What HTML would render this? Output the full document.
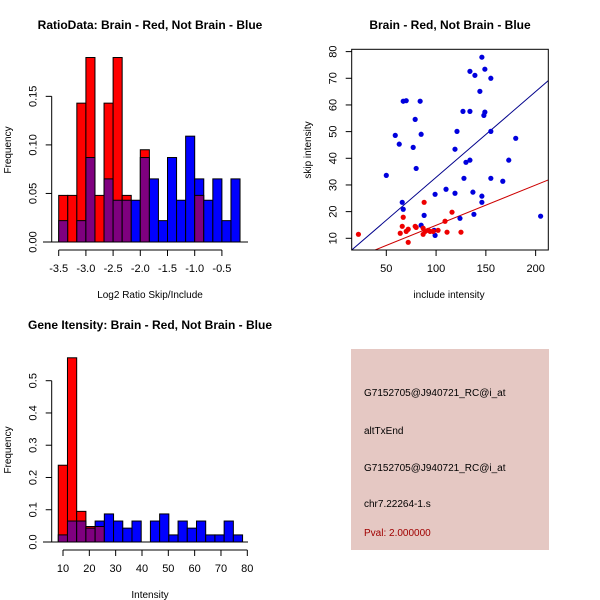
<!DOCTYPE html>
<html><head><meta charset="utf-8"><style>
body{margin:0;background:#fff}
svg{display:block;font-family:"Liberation Sans",sans-serif}
</style></head><body>
<svg id="c" width="600" height="600" viewBox="0 0 600 600">
<rect x="0" y="0" width="600" height="600" fill="#fff"/>
<g id="p1"></g>
<g id="p2"></g>
<g id="p3"></g>
<g id="p4">
<rect x="351" y="349" width="198" height="201" fill="#e5c8c3"/>
<text x="364" y="396" font-size="10">G7152705@J940721_RC@i_at</text>
<text x="364" y="434" font-size="10">altTxEnd</text>
<text x="364" y="471" font-size="10">G7152705@J940721_RC@i_at</text>
<text x="364" y="507" font-size="10">chr7.22264-1.s</text>
<text x="364" y="536" font-size="10" fill="#a00000">Pval: 2.000000</text>
</g>
</svg>
<script>
// Panel 1 data
const ratioBinStart = -3.5;
const ratioBinWidth = 1/6;
const ratioRed = [0.048,0.048,0.143,0.19,0.048,0.143,0.19,0.048,0,0.095,0,0,0,0,0,0.048,0,0,0,0];
const ratioBlue = [0.022,0,0.022,0.087,0,0.065,0.043,0.043,0.043,0.087,0.065,0.022,0.087,0.043,0.109,0.065,0.043,0.065,0.022,0.065];
const ratioXTicks = [-3.5,-3.0,-2.5,-2.0,-1.5,-1.0,-0.5];
const ratioXTickLabels = ["-3.5","-3.0","-2.5","-2.0","-1.5","-1.0","-0.5"];
const ratioYTicks = [0,0.05,0.10,0.15];
const ratioYTickLabels = ["0.00","0.05","0.10","0.15"];
// Panel 2 data
const blueX = [50,59,63,66,67,67,70,77,79,80,84,85,85,88,99,98,99,110,119,119,121,124,127,128,130,134,134,134,137,138,139,144,146,146,146,148,149,149,155,155,155,167,173,180,205];
const blueY = [33.6,48.6,45.3,23.5,20.9,61.4,61.6,44.1,54.6,36.2,61.4,49,14.9,18.6,26.5,13,11.1,28.4,43.4,26.9,50.1,17.5,57.6,32.5,38.5,39.3,72.6,57.6,27.3,19,71.1,65.1,77.9,25.8,23.5,56.1,57.3,73.4,70,50.1,32.5,31.4,39.3,47.5,18.3];
const redX = [22,64,66,67,70,72,72,79,80,88,87,87,89,92,94,97,102,109,111,116,125];
const redY = [11.5,11.9,14.5,17.9,12.6,13.4,8.5,14.5,14.1,23.5,13.8,11.5,12.6,13,12.6,12.6,13,16.4,12.3,19.8,12.3];
const blueFit = [0.71,0.3215];
const redFit = [-0.23,0.151];
const scXTicks = [50,100,150,200];
const scYTicks = [10,20,30,40,50,60,70,80];
// Panel 3 data
const geneBinStart = 8.2;
const geneBinWidth = 3.5;
const geneRed = [0.238,0.571,0.095,0.048,0.048,0,0,0,0,0,0,0,0,0,0,0,0,0,0,0];
const geneBlue = [0.022,0.065,0.065,0.043,0.065,0.087,0.065,0.043,0.065,0,0.065,0.087,0.022,0.065,0.043,0.065,0.022,0.022,0.065,0.022];
const geneXTicks = [10,20,30,40,50,60,70,80];
const geneYTicks = [0,0.1,0.2,0.3,0.4,0.5];
const geneYTickLabels = ["0.0","0.1","0.2","0.3","0.4","0.5"];

const NS="http://www.w3.org/2000/svg";
function mk(parent,tag,attrs,text){const e=document.createElementNS(NS,tag);for(const k in attrs)e.setAttribute(k,attrs[k]);if(text!==undefined)e.textContent=text;parent.appendChild(e);return e;}

function hist(g,cfg){
  const {x,y,start,w,red,blue,xt,xtl,yt,ytl,title,xlab,axY,yAxisX,baseL,baseR,titleY,xlabY,top}=cfg;
  const t=mk(g,'text',{x:150,y:titleY,'font-size':12,'font-weight':'bold','text-anchor':'middle'},title);
  
  for(let i=0;i<red.length;i++){
    const x0=x(start+i*w),x1=x(start+(i+1)*w);
    const hi=Math.max(red[i],blue[i]),lo=Math.min(red[i],blue[i]);
    if(hi<=0)continue;
    const col=red[i]>blue[i]?'#ff0000':'#0000ff';
    const r=mk(g,'rect',{x:x0,y:y(hi),width:x1-x0,height:y(0)-y(hi),fill:col,stroke:'#000','stroke-width':1});
    
    if(lo>0){const p=mk(g,'rect',{x:x0,y:y(lo),width:x1-x0,height:y(0)-y(lo),fill:'#7f007f',stroke:'#000','stroke-width':1});
      }
  }
  const b=mk(g,'line',{x1:baseL,x2:baseR,y1:y(0),y2:y(0),stroke:'#000'});
  
  const xa=mk(g,'g',{});
  mk(xa,'line',{x1:x(xt[0]),x2:x(xt[xt.length-1]),y1:axY,y2:axY,stroke:'#000'});
  xt.forEach((v,i)=>{mk(xa,'line',{x1:x(v),x2:x(v),y1:axY,y2:axY+6,stroke:'#000'});
    const l=mk(xa,'text',{x:x(v),y:axY+22,'font-size':11,'text-anchor':'middle'},xtl[i]);
    });
  const ya=mk(g,'g',{});
  mk(ya,'line',{x1:yAxisX,x2:yAxisX,y1:y(yt[0]),y2:y(yt[yt.length-1]),stroke:'#000'});
  yt.forEach((v,i)=>{mk(ya,'line',{x1:yAxisX-6,x2:yAxisX,y1:y(v),y2:y(v),stroke:'#000'});
    const l=mk(ya,'text',{x:0,y:0,'font-size':11,'text-anchor':'middle',transform:`translate(${yAxisX-15},${y(v)}) rotate(-90)`},ytl[i]);
    });
  const xl=mk(g,'text',{x:150,y:xlabY,'font-size':10,'text-anchor':'middle'},xlab);
  
  const yl=mk(g,'text',{x:0,y:0,'font-size':10,'text-anchor':'middle',transform:`translate(11,${top+100}) rotate(-90)`},'Frequency');
  
}

hist(document.getElementById('p1'),{
  x:v=>58.7+(v+3.5)*54.4, y:v=>242-v*971, start:ratioBinStart,w:ratioBinWidth,red:ratioRed,blue:ratioBlue,
  xt:ratioXTicks,xtl:ratioXTickLabels,yt:ratioYTicks,ytl:ratioYTickLabels,
  title:'RatioData: Brain - Red, Not Brain - Blue',xlab:'Log2 Ratio Skip/Include',
  axY:250,yAxisX:51.7,baseL:43,baseR:248,titleY:29,xlabY:298,top:50});

hist(document.getElementById('p3'),{
  x:v=>63+(v-10)*2.633, y:v=>542-v*322.6, start:geneBinStart,w:geneBinWidth,red:geneRed,blue:geneBlue,
  xt:geneXTicks,xtl:geneXTicks.map(String),yt:geneYTicks,ytl:geneYTickLabels,
  title:'Gene Itensity: Brain - Red, Not Brain - Blue',xlab:'Intensity',
  axY:550,yAxisX:51.7,baseL:43,baseR:248,titleY:329,xlabY:598,top:350});

// Scatter
(function(){
  const g=document.getElementById('p2');
  const X=v=>386.3+(v-50)*0.9956, Y=v=>238.3-(v-10)*2.667;
  const L=351.7,R=548.3,T=49.3,B=250;
  const t=mk(g,'text',{x:450,y:29,'font-size':12,'font-weight':'bold','text-anchor':'middle'},'Brain - Red, Not Brain - Blue');
  
  const clip=mk(g,'clipPath',{id:'sc'});mk(clip,'rect',{x:L,y:T,width:R-L,height:B-T});
  const xmin=50+(L-386.3)/0.9956,xmax=50+(R-386.3)/0.9956;
  [[blueFit,'#00008b','blue-fit-line'],[redFit,'#cd0000','red-fit-line']].forEach(([f,c,n])=>{
    const l=mk(g,'line',{x1:X(xmin),y1:Y(f[0]+f[1]*xmin),x2:X(xmax),y2:Y(f[0]+f[1]*xmax),stroke:c,'clip-path':'url(#sc)'});
    });
  blueX.forEach((v,i)=>{const p=mk(g,'circle',{cx:X(v),cy:Y(blueY[i]),r:2.6,fill:'#0000dd'});
    });
  redX.forEach((v,i)=>{const p=mk(g,'circle',{cx:X(v),cy:Y(redY[i]),r:2.6,fill:'#ee0000'});
    });
  const box=mk(g,'rect',{x:L,y:T,width:R-L,height:B-T,fill:'none',stroke:'#000'});
  
  scXTicks.forEach(v=>{mk(g,'line',{x1:X(v),x2:X(v),y1:B,y2:B+6,stroke:'#000'});
    const l=mk(g,'text',{x:X(v),y:B+22,'font-size':11,'text-anchor':'middle'},String(v));
    });
  scYTicks.forEach(v=>{mk(g,'line',{x1:L-6,x2:L,y1:Y(v),y2:Y(v),stroke:'#000'});
    const l=mk(g,'text',{x:0,y:0,'font-size':11,'text-anchor':'middle',transform:`translate(${L-15},${Y(v)}) rotate(-90)`},String(v));
    });
  const xl=mk(g,'text',{x:449,y:298,'font-size':10,'text-anchor':'middle'},'include intensity');
  
  const yl=mk(g,'text',{x:0,y:0,'font-size':10,'text-anchor':'middle',transform:'translate(311,150) rotate(-90)'},'skip intensity');
  
})();
</script>
</body></html>
